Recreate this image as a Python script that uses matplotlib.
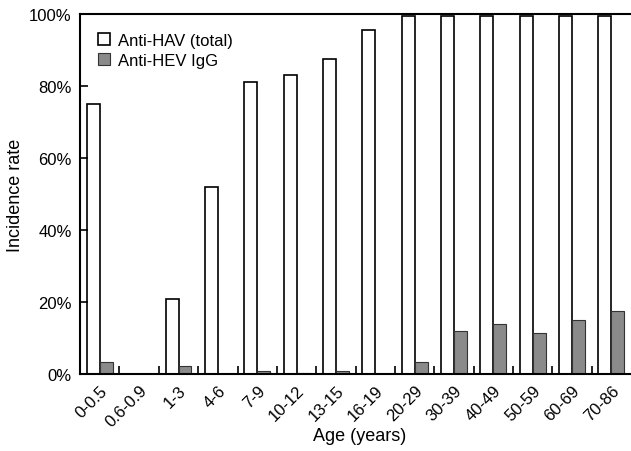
import numpy as np
import matplotlib.pyplot as plt

plt.rcParams['font.family'] = ['Liberation Sans', 'DejaVu Sans']

# data
ages = ["0-0.5", "0.6-0.9", "1-3", "4-6", "7-9", "10-12", "13-15", "16-19",
        "20-29", "30-39", "40-49", "50-59", "60-69", "70-86"]
hav = [75, 0, 21, 52, 81, 83, 87.5, 95.5, 99.5, 99.5, 99.5, 99.5, 99.5, 99.5]
hev = [3.4, 0, 2.2, 0, 1.0, 0.3, 0.8, 0, 3.3, 12, 13.8, 11.3, 15, 17.5]

x = np.arange(len(ages)) + 0.5
w = 0.33

fig = plt.figure(figsize=(6.31, 4.52), dpi=100)
ax = fig.add_axes([0.127, 0.170, 0.873, 0.797])

ax.bar(x - w/2, hav, w, color="white", edgecolor="black", linewidth=1.2,
       label="Anti-HAV (total)")
ax.bar(x + w/2, hev, w, color="#8a8a8a", edgecolor="#333333", linewidth=0.8,
       label="Anti-HEV IgG")

ax.set_xlim(0, len(ages))
ax.set_ylim(0, 100)
ax.set_yticks([0, 20, 40, 60, 80, 100])
ax.set_yticklabels(["0%", "20%", "40%", "60%", "80%", "100%"], fontsize=12)
ax.set_xticks(x)
ax.set_xticklabels(ages, rotation=45, ha="right", rotation_mode="anchor", fontsize=12)
ax.set_xticks(np.arange(1, len(ages)), minor=True)
ax.tick_params(axis="x", which="major", length=0, pad=6)
ax.tick_params(axis="x", which="minor", direction="in", length=6, width=1.2)
ax.tick_params(axis="y", direction="in", length=6, width=1.2, pad=6)

ax.spines["right"].set_visible(False)
for s in ["left", "bottom", "top"]:
    ax.spines[s].set_linewidth(1.5)

ax.set_xlabel("Age (years)", fontsize=13)
ax.xaxis.set_label_coords(0.508, -0.148)
ax.set_ylabel("Incidence rate", fontsize=13)

ax.legend(loc="upper left", frameon=False, fontsize=12, handlelength=0.7,
          handleheight=0.7, handletextpad=0.5, labelspacing=0.3,
          bbox_to_anchor=(0.005, 0.99))

plt.savefig("out.png")
